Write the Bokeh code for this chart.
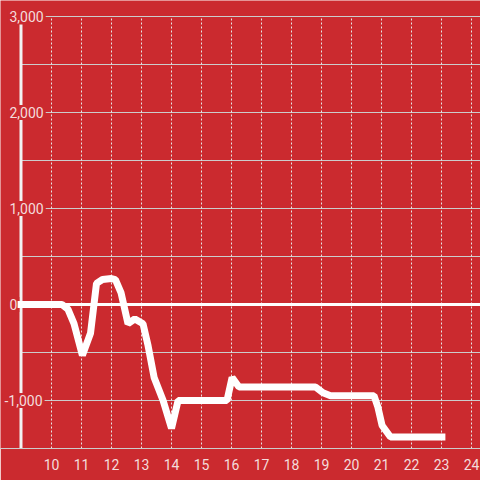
from bokeh.plotting import figure
from bokeh.models import FixedTicker
from bokeh.core.properties import value
from bokeh.embed import file_html
from bokeh.resources import INLINE

# ---- data ----
x_vals = [8.87, 10.35, 10.55, 10.75, 11.03, 11.3, 11.5, 11.7, 12.0, 12.13, 12.32, 12.55,
          12.78, 13.05, 13.22, 13.42, 13.72, 14.0, 14.22, 15.85, 16.02, 16.25, 18.8, 19.05,
          19.3, 20.75, 20.88, 21.02, 21.3, 23.13]
y_vals = [0, 0, -50, -200, -530, -300, 220, 260, 270, 260, 120, -200,
          -150, -200, -430, -760, -1000, -1290, -1000, -1000, -760, -860, -860, -920,
          -950, -950, -1070, -1260, -1380, -1380]
x_ticks = list(range(10, 25))
y_label_vals = [3000, 2000, 1000, 0, -1000]
y_labels = ["3,000", "2,000", "1,000", "0", "-1,000"]
y_grid_vals = [3000, 2500, 2000, 1500, 1000, 500, -500, -1000]

BG = "#CB2A2F"
LABEL = "#F4DCDC"
GRID = "#CCCCCC"

X0, X1 = 8.3, 24.3
Y0, Y1 = -1500, 3166.7

p = figure(width=480, height=480, output_backend="svg", toolbar_location=None,
           x_range=(X0, X1), y_range=(Y0, Y1), y_axis_location=None,
           min_border_left=0, min_border_right=0, min_border_top=0, min_border_bottom=32,
           background_fill_color=BG, border_fill_color=BG, outline_line_color=None)
p.xgrid.visible = False
p.ygrid.visible = False

ax = p.xaxis[0]
ax.ticker = FixedTicker(ticks=x_ticks)
ax.major_tick_line_color = None
ax.minor_tick_line_color = None
ax.axis_line_color = GRID
ax.major_label_text_color = LABEL
ax.major_label_text_font = "Roboto"
ax.major_label_text_font_size = "14px"
ax.major_label_standoff = 4

# horizontal grid lines
gx0 = 8.967
n = len(y_grid_vals)
p.segment(x0=[gx0] * n, y0=y_grid_vals, x1=[X1] * n, y1=y_grid_vals,
          line_color=GRID, line_width=1)

# vertical dotted grid lines
m = len(x_ticks)
p.segment(x0=x_ticks, y0=[-1500] * m, x1=x_ticks, y1=[3000] * m,
          line_color="#E6E6E6", line_width=1, line_dash="2 2")

# zero line
p.segment(x0=[8.867], y0=[0], x1=[X1], y1=[0], line_color="#FFFFFF", line_width=3)

# y axis line
p.segment(x0=[8.983], y0=[-1500], x1=[8.983], y1=[2917], line_color="#F2F2F2", line_width=3)

# y labels with background boxes
offs = [-5 if s.startswith("-") else 0 for s in y_labels]
p.text(x=[8.533] * len(y_labels), y=y_label_vals, text=y_labels, x_offset=offs,
       text_align="left", text_baseline="middle",
       text_font=value("Roboto"), text_font_size="14px", text_color=LABEL,
       background_fill_color=BG, padding=2)

# data line
p.line(x_vals, y_vals, line_color="#FFFFFF", line_width=7)

open("out.html", "w").write(file_html(p, INLINE))
